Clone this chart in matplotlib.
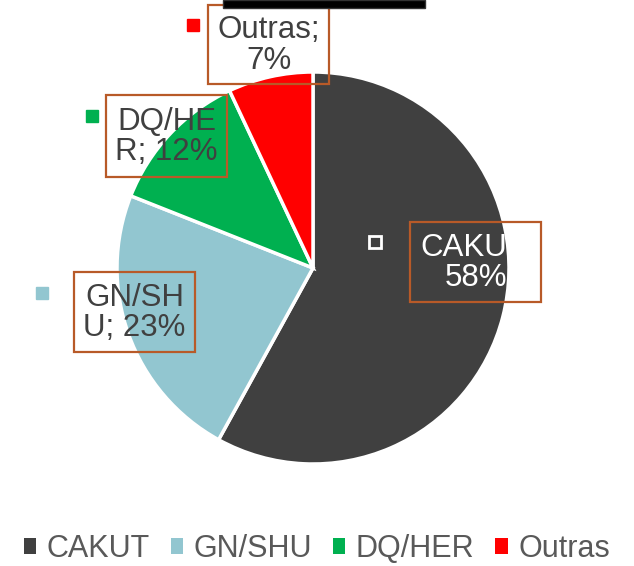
import matplotlib.pyplot as plt
from matplotlib.patches import Rectangle

categories = ['CAKUT', 'GN/SHU', 'DQ/HER', 'Outras']
values = [58, 23, 12, 7]
data_labels = ['CAKUT;\n58%', 'GN/SH\nU; 23%', 'DQ/HE\nR; 12%', 'Outras;\n7%']
colors = ['#404040', '#92C6D0', '#00B050', '#FF0000']

plt.rcParams['font.family'] = ['Liberation Sans', 'DejaVu Sans']

W, H = 634, 566
fig = plt.figure(figsize=(W / 100, H / 100), dpi=100)

# pie centre (313, 268) px, radius 196 px
cx, cy, r = 313, 268, 196
ax = fig.add_axes([(cx - r) / W, 1 - (cy + r) / H, 2 * r / W, 2 * r / H])

wedges, _ = ax.pie(values, colors=colors, startangle=90, counterclock=False,
                   radius=1, wedgeprops=dict(edgecolor='white', linewidth=2.5))
ax.set_xlim(-1, 1)
ax.set_ylim(-1, 1)
ax.set_aspect('equal')
ax.axis('off')

def px(x, y):
    return (x - cx) / r, (cy - y) / r

# label boxes in pixel coords: x0, x1, y0, y1, marker x, marker y
boxes = [
    (410, 541, 222, 302, 375, 242),
    (74, 195, 272, 352, 42, 293),
    (106, 227, 95, 177, 92, 116),
    (208, 329, 5, 84, 193, 25),
]
text_cols = ['white', '#404040', '#404040', '#404040']

for i, (x0, x1, y0, y1, mx, my) in enumerate(boxes):
    bx, by = px(x0, y1)
    rect = Rectangle((bx, by), (x1 - x0) / r, (y1 - y0) / r, fill=False,
                     edgecolor='#B85A28', linewidth=1.6, clip_on=False, zorder=5)
    ax.add_patch(rect)
    tx, ty = px((x0 + x1) / 2, (y0 + y1) / 2 + 1)
    ax.text(tx, ty, data_labels[i], ha='center', va='center', multialignment='center',
            fontsize=22.5, color=text_cols[i], linespacing=1.02, zorder=6, clip_on=False)
    kx, ky = px(mx, my)
    if i == 0:
        ax.plot(kx, ky, 's', ms=8, mfc=colors[i], mec='white', mew=2, clip_on=False, zorder=6)
    else:
        ax.plot(kx, ky, 's', ms=8, mfc=colors[i], mec=colors[i], clip_on=False, zorder=6)

# title box cut off at the top
fig.patches.append(Rectangle((223 / W, 1 - 8 / H), (425 - 223) / W, 8 / H,
                             transform=fig.transFigure, facecolor='black',
                             edgecolor='#333333', zorder=10))

fig.legend(wedges, categories, loc='center', bbox_to_anchor=(0.5, 1 - 549 / H),
           ncol=4, frameon=False, fontsize=22, handlelength=0.4, handleheight=0.4,
           handletextpad=0.35, columnspacing=0.68, labelcolor='#595959',
           borderaxespad=0, borderpad=0)
for h in fig.legends[0].legend_handles:
    h.set_edgecolor('none')

fig.savefig('out.png', dpi=100)
